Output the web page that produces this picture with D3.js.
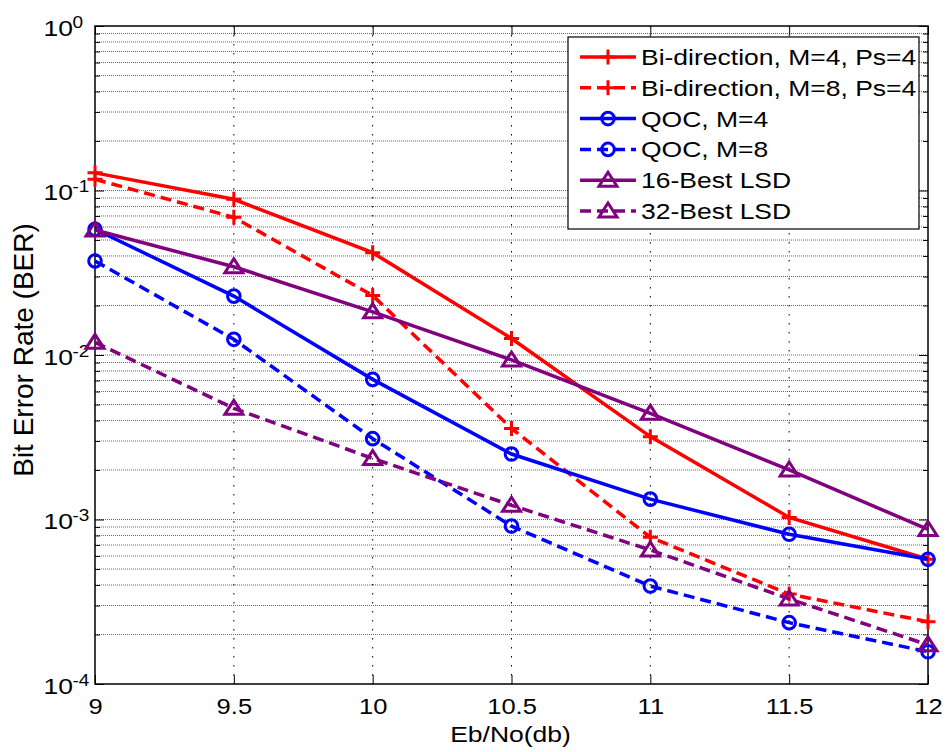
<!DOCTYPE html>
<html>
<head>
<meta charset="utf-8">
<script src="https://cdn.jsdelivr.net/npm/d3@7"></script>
<style>
  body { margin: 0; background: #fff; }
  svg { display: block; }
  text { font-family: "Liberation Sans", Arial, Helvetica, sans-serif; fill: #000; }
</style>
</head>
<body>
<svg id="chart" width="945" height="752"></svg>
<script>
// ---------- data ----------
const xValues = [9, 9.5, 10, 10.5, 11, 11.5, 12];
const biM4  = [0.128, 0.0884, 0.0419, 0.0126, 0.00319, 0.00103, 0.000573];
const biM8  = [0.117, 0.0687, 0.0230, 0.00358, 0.00078, 0.000352, 0.000239];
const qocM4 = [0.0581, 0.0228, 0.00711, 0.0025, 0.00133, 0.000813, 0.000573];
const qocM8 = [0.0373, 0.01245, 0.0031, 0.000912, 0.000394, 0.000236, 0.000157];
const lsd16 = [0.0575, 0.0344, 0.0183, 0.00933, 0.00442, 0.0020, 0.00087];
const lsd32 = [0.01194, 0.00474, 0.00235, 0.00122, 0.000653, 0.000329, 0.000173];

const seriesNames = ["Bi-direction, M=4, Ps=4", "Bi-direction, M=8, Ps=4", "QOC, M=4", "QOC, M=8", "16-Best LSD", "32-Best LSD"];
const xTickLabels = ["9", "9.5", "10", "10.5", "11", "11.5", "12"];
const yTickExponents = [0, -1, -2, -3, -4];
const xLabel = "Eb/No(db)";
const yLabel = "Bit Error Rate (BER)";

// ---------- layout ----------
const pLeft = 95, pRight = 928, pTop = 26, pBottom = 684;
const FS = 26.5;        // font size (width based)
const SQ = 0.86;        // vertical squash of the original figure's text
const svg = d3.select("#chart");

const x = d3.scaleLinear().domain([9, 12]).range([pLeft, pRight]);
const y = d3.scaleLog().domain([1e-4, 1]).range([pBottom, pTop]);

const DASH = "11,6";
const series = [
  { name: seriesNames[0], values: biM4,  color: "#ff0000", dash: null, marker: "plus" },
  { name: seriesNames[1], values: biM8,  color: "#ff0000", dash: DASH, marker: "plus" },
  { name: seriesNames[2], values: qocM4, color: "#0000ff", dash: null, marker: "circle" },
  { name: seriesNames[3], values: qocM8, color: "#0000ff", dash: DASH, marker: "circle" },
  { name: seriesNames[4], values: lsd16, color: "#800080", dash: null, marker: "triangle" },
  { name: seriesNames[5], values: lsd32, color: "#800080", dash: DASH, marker: "triangle" }
];

function hText(g, tx, ty, str, size, anchor) {
  return g.append("text")
    .attr("transform", `translate(${tx},${ty}) scale(1,${SQ})`)
    .attr("text-anchor", anchor || "start")
    .style("font-size", size + "px").text(str);
}

// ---------- grid ----------
const minorVals = [];
for (let e = -4; e < 0; e++) for (let m = 2; m <= 9; m++) minorVals.push(m * Math.pow(10, e));
const majorVals = yTickExponents.map(e => Math.pow(10, e));

const grid = svg.append("g");
grid.selectAll("line.hg").data(minorVals.concat(majorVals.filter(v => v > 1e-4 && v < 1)))
  .enter().append("line")
  .attr("x1", pLeft).attr("x2", pRight)
  .attr("y1", d => y(d)).attr("y2", d => y(d))
  .attr("stroke", "#666").attr("stroke-width", 1).attr("stroke-dasharray", "1,1");
grid.selectAll("line.vg").data(xValues.slice(1, -1))
  .enter().append("line")
  .attr("y1", pTop).attr("y2", pBottom)
  .attr("x1", d => x(d)).attr("x2", d => x(d))
  .attr("stroke", "#000").attr("stroke-width", 1).attr("stroke-dasharray", "1.5,7.5");

// ---------- axes (ticks inside) ----------
const xAxisB = d3.axisBottom(x).tickValues(xValues).tickSizeInner(-9).tickSizeOuter(0).tickFormat("");
const gxb = svg.append("g").attr("transform", `translate(0,${pBottom})`).call(xAxisB);
gxb.select(".domain").remove();
gxb.selectAll(".tick").each(function(d, i) {
  hText(d3.select(this), 0, 714 - pBottom, xTickLabels[i], 25.5, "middle");
});

const xAxisT = d3.axisTop(x).tickValues(xValues).tickSizeInner(-9).tickSizeOuter(0).tickFormat("");
const gxt = svg.append("g").attr("transform", `translate(0,${pTop})`).call(xAxisT);
gxt.select(".domain").remove();

const yAxisL = d3.axisLeft(y).tickValues(majorVals).tickSizeInner(-9).tickSizeOuter(0).tickFormat("");
const gyl = svg.append("g").attr("transform", `translate(${pLeft},0)`).call(yAxisL);
gyl.select(".domain").remove();
const yAxisLm = d3.axisLeft(y).tickValues(minorVals).tickSizeInner(-5).tickSizeOuter(0).tickFormat("");
const gylm = svg.append("g").attr("transform", `translate(${pLeft},0)`).call(yAxisLm);
gylm.select(".domain").remove();

const yAxisR = d3.axisRight(y).tickValues(majorVals).tickSizeInner(-9).tickSizeOuter(0).tickFormat("");
const gyr = svg.append("g").attr("transform", `translate(${pRight},0)`).call(yAxisR);
gyr.select(".domain").remove();
const yAxisRm = d3.axisRight(y).tickValues(minorVals).tickSizeInner(-5).tickSizeOuter(0).tickFormat("");
const gyrm = svg.append("g").attr("transform", `translate(${pRight},0)`).call(yAxisRm);
gyrm.select(".domain").remove();

// y tick labels 10^e
gyl.selectAll(".tick").each(function(d, i) {
  const g = d3.select(this);
  hText(g, 73 - pLeft, 9, "10", FS, "end");
  hText(g, 72.5 - pLeft, 1, String(yTickExponents[i]), 19);
});

// box
svg.append("rect").attr("x", pLeft).attr("y", pTop).attr("width", pRight - pLeft).attr("height", pBottom - pTop)
  .attr("fill", "none").attr("stroke", "#000").attr("stroke-width", 1.5);

// axis labels
hText(svg, 510.5, 742, xLabel, FS, "middle");
svg.append("text").attr("transform", `translate(33,350) rotate(-90)`)
  .attr("text-anchor", "middle").style("font-size", "28px").text(yLabel);

// ---------- markers ----------
function drawMarker(g, type, cx, cy, color) {
  if (type === "plus") {
    g.append("path").attr("d", `M${cx - 7.5},${cy}H${cx + 7.5}M${cx},${cy - 7.5}V${cy + 7.5}`)
      .attr("stroke", color).attr("stroke-width", 3).attr("fill", "none");
  } else if (type === "circle") {
    g.append("circle").attr("cx", cx).attr("cy", cy).attr("r", 6.3)
      .attr("stroke", color).attr("stroke-width", 3).attr("fill", "none");
  } else {
    g.append("path").attr("d", `M${cx},${cy - 8}L${cx + 9},${cy + 6}L${cx - 9},${cy + 6}Z`)
      .attr("stroke", color).attr("stroke-width", 3).attr("fill", "none").attr("stroke-linejoin", "miter");
  }
}

// ---------- lines ----------
const line = d3.line().x((d, i) => x(xValues[i])).y(d => y(d));
const plot = svg.append("g");
series.forEach(s => {
  const g = plot.append("g");
  g.append("path").datum(s.values).attr("d", line)
    .attr("fill", "none").attr("stroke", s.color).attr("stroke-width", 3.5)
    .attr("stroke-dasharray", s.dash);
  s.values.forEach((v, i) => drawMarker(g, s.marker, x(xValues[i]), y(v), s.color));
});

// ---------- legend ----------
const lg = svg.append("g");
lg.append("rect").attr("x", 568).attr("y", 37).attr("width", 351).attr("height", 192)
  .attr("fill", "#fff").attr("stroke", "#000").attr("stroke-width", 1.2);
series.forEach((s, i) => {
  const ly = 57 + i * 30.8;
  lg.append("line").attr("x1", 580).attr("x2", 636).attr("y1", ly).attr("y2", ly)
    .attr("stroke", s.color).attr("stroke-width", 3.5).attr("stroke-dasharray", s.dash);
  drawMarker(lg, s.marker, 608, ly, s.color);
  hText(lg, 641, ly + 8, s.name, FS);
});
</script>
</body>
</html>
